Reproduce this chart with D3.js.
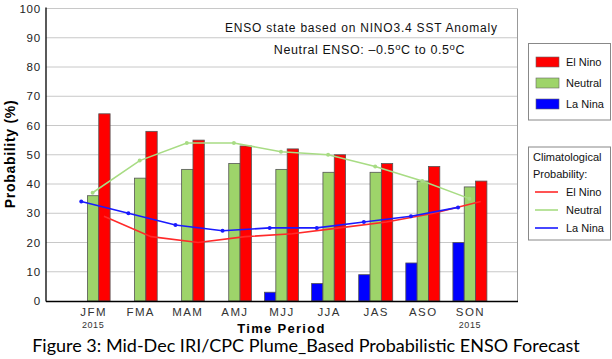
<!DOCTYPE html>
<html><head><meta charset="utf-8">
<script src="https://cdn.jsdelivr.net/npm/d3@7"></script>
<style>body{margin:0;background:#fff} svg{display:block} text{font-family:"Liberation Sans",Arial,sans-serif}</style>
</head><body><svg id="c" width="612" height="359"></svg>
<script>
const periods = ["JFM","FMA","MAM","AMJ","MJJ","JJA","JAS","ASO","SON"];
const subLabels = ["2015","","","","","","","","2015"];
const series = ["La Nina","Neutral","El Nino"];
const elNino = [64,58,55,53,52,50,47,46,41];
const neutral = [36,42,45,47,45,44,44,41,39];
const laNina = [0,0,0,0,3,6,9,13,20];
const climElNino = [29,22,20,22,23,25,27,30,34];
const climNeutral = [37,48,54,54,51,50,46,41,35];
const climLaNina = [34,30,26,24,25,25,27,29,32];
const yTicks = [0,10,20,30,40,50,60,70,80,90,100];

const barColor = {"El Nino":"#ff0000","Neutral":"#9ed46a","La Nina":"#0000ff"};
const lineColor = {"El Nino":"#ff2a2a","Neutral":"#a8dc84","La Nina":"#1a1aff"};
const values = {"El Nino":elNino,"Neutral":neutral,"La Nina":laNina};
const clim = {"El Nino":climElNino,"Neutral":climNeutral,"La Nina":climLaNina};

const L=46, R=517, T=8.5, B=301;
const svg = d3.select("#c");
const x = d3.scalePoint().domain(periods).range([L,R]).padding(1);
const x1 = d3.scaleBand().domain(series).range([-17.5,16.5]);
const y = d3.scaleLinear().domain([0,100]).range([B,T]);

// gridlines
svg.append("g").selectAll("line").data(yTicks.filter(d=>d>0)).join("line")
  .attr("x1",L).attr("x2",R).attr("y1",d=>y(d)).attr("y2",d=>y(d))
  .attr("stroke","#c8c8c8").attr("stroke-width",1);
// right border
svg.append("line").attr("x1",R+0.5).attr("x2",R+0.5).attr("y1",T).attr("y2",B)
  .attr("stroke","#999");

// y tick labels
const yAxis = d3.axisLeft(y).tickValues(yTicks).tickSize(0).tickPadding(5);
const gy = svg.append("g").attr("transform",`translate(${L},0)`).call(yAxis);
gy.select(".domain").remove();
gy.selectAll("text").attr("font-size","11.5px").attr("fill","#222")
  .style("font-family","Liberation Sans, Arial").style("letter-spacing","0.8px");

// bars
const groups = svg.append("g").selectAll("g").data(periods).join("g")
  .attr("transform",d=>`translate(${x(d)},0)`);
groups.selectAll("rect").data((p,i)=>series.map(s=>({s,v:values[s][i]})))
  .join("rect")
  .attr("x",d=>x1(d.s)+0.5).attr("width",x1.bandwidth())
  .attr("y",d=>y(d.v)).attr("height",d=>B-y(d.v))
  .attr("fill",d=>barColor[d.s]).attr("stroke","#555").attr("stroke-width",0.8)
  .attr("display",d=>d.v>0?null:"none");

// climatology lines
const order = ["El Nino","Neutral","La Nina"];
order.forEach(s=>{
  const pts = periods.map((p,i)=>[x(p)+x1(s)+x1.bandwidth()/2, y(clim[s][i])]);
  svg.append("path").attr("d",d3.line()(pts)).attr("fill","none")
    .attr("stroke",lineColor[s]).attr("stroke-width",1.6);
  if(s!=="El Nino"){
    svg.append("g").selectAll("circle").data(pts).join("circle")
      .attr("cx",d=>d[0]).attr("cy",d=>d[1]).attr("r",2).attr("fill",lineColor[s]);
  }
});

// axes lines
svg.append("line").attr("x1",L).attr("x2",L).attr("y1",T-1).attr("y2",B+0.5).attr("stroke","#000").attr("stroke-width",1.3);
svg.append("line").attr("x1",L).attr("x2",R+1).attr("y1",B+0.5).attr("y2",B+0.5).attr("stroke","#000").attr("stroke-width",1.3);

// x tick labels
const xAxis = d3.axisBottom(x).tickSize(0).tickPadding(7);
const gx = svg.append("g").attr("transform",`translate(0,${B})`).call(xAxis);
gx.select(".domain").remove();
gx.selectAll("text").attr("font-size","11.5px").attr("fill","#333")
  .style("font-family","Liberation Sans, Arial").style("letter-spacing","1.4px");
svg.append("g").selectAll("text").data(periods).join("text")
  .attr("x",d=>x(d)).attr("y",328).attr("text-anchor","middle")
  .attr("font-size","9px").attr("fill","#333").style("letter-spacing","0.6px")
  .text((d,i)=>subLabels[i]);

// axis titles
svg.append("text").attr("x",(L+R)/2).attr("y",332.5).attr("text-anchor","middle")
  .attr("font-size","13px").attr("font-weight","bold").style("letter-spacing","1.3px")
  .text("Time Period");
svg.append("text").attr("transform","translate(14.5,154) rotate(-90)").attr("text-anchor","middle")
  .attr("font-size","14px").attr("font-weight","bold").style("letter-spacing","0.7px")
  .text("Probability (%)");

// annotations
svg.append("text").attr("x",361).attr("y",32).attr("text-anchor","middle")
  .attr("font-size","12px").attr("fill","#111").attr("textLength",272).attr("lengthAdjust","spacing")
  .text("ENSO state based on NINO3.4 SST Anomaly");
const t2 = svg.append("text").attr("x",369.5).attr("y",54).attr("text-anchor","middle")
  .attr("font-size","12.5px").attr("fill","#111").style("letter-spacing","0.6px");
t2.append("tspan").text("Neutral ENSO: \u20130.5");
t2.append("tspan").attr("dy",-4.5).attr("font-size","9.5px").text("o");
t2.append("tspan").attr("dy",4.5).text("C to 0.5");
t2.append("tspan").attr("dy",-4.5).attr("font-size","9.5px").text("o");
t2.append("tspan").attr("dy",4.5).text("C");

// legend 1
const lg1 = svg.append("g");
lg1.append("rect").attr("x",528.5).attr("y",43.5).attr("width",82).attr("height",76.5)
  .attr("fill","#fff").attr("stroke","#888");
const legOrder = ["El Nino","Neutral","La Nina"];
legOrder.forEach((s,i)=>{
  const cy = 62 + i*21;
  lg1.append("rect").attr("x",536).attr("y",cy-5).attr("width",23).attr("height",10)
    .attr("fill",barColor[s]).attr("stroke","#666").attr("stroke-width",0.6);
  lg1.append("text").attr("x",566).attr("y",cy+4).attr("font-size","11px").attr("fill","#111").text(s);
});
// legend 2
const lg2 = svg.append("g");
lg2.append("rect").attr("x",528.5).attr("y",147).attr("width",82).attr("height",93)
  .attr("fill","#fff").attr("stroke","#888");
lg2.append("text").attr("x",533).attr("y",161).attr("font-size","11px").attr("fill","#111").text("Climatological");
lg2.append("text").attr("x",533).attr("y",177.5).attr("font-size","11px").attr("fill","#111").text("Probability:");
legOrder.forEach((s,i)=>{
  const cy = 192 + i*18;
  lg2.append("line").attr("x1",535).attr("x2",558).attr("y1",cy).attr("y2",cy)
    .attr("stroke",lineColor[s]).attr("stroke-width",1.6);
  lg2.append("text").attr("x",566).attr("y",cy+4).attr("font-size","11px").attr("fill","#111").text(s);
});

// caption
svg.append("text").attr("x",306).attr("y",352).attr("text-anchor","middle")
  .style("font-family","Lato, sans-serif").attr("font-size","18px").attr("fill","#000")
  .text("Figure 3: Mid-Dec IRI/CPC Plume_Based Probabilistic ENSO Forecast");
</script></body></html>
